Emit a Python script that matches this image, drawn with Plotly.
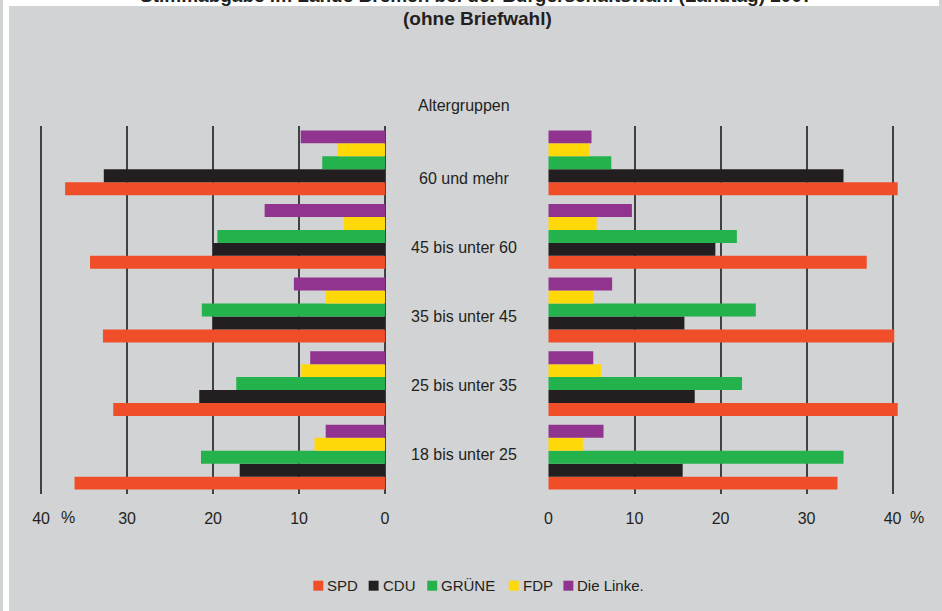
import plotly.graph_objects as go

# ---------------- data ----------------
categories = ["60 und mehr", "45 bis unter 60", "35 bis unter 45", "25 bis unter 35", "18 bis unter 25"]
parties = ["SPD", "CDU", "GRÜNE", "FDP", "Die Linke."]

spd_left = [37.2, 34.3, 32.8, 31.6, 36.1]
cdu_left = [32.7, 20.0, 20.0, 21.6, 16.9]
gruene_left = [7.3, 19.5, 21.3, 17.3, 21.4]
fdp_left = [5.5, 4.8, 6.9, 9.8, 8.2]
linke_left = [9.8, 14.0, 10.6, 8.7, 6.9]

spd_right = [40.6, 37.0, 40.2, 40.6, 33.6]
cdu_right = [34.3, 19.4, 15.8, 17.0, 15.6]
gruene_right = [7.3, 21.9, 24.1, 22.5, 34.3]
fdp_right = [4.7, 5.6, 5.2, 6.1, 4.0]
linke_right = [5.0, 9.7, 7.4, 5.2, 6.4]

tick_values = [0, 10, 20, 30, 40]
tick_labels = ["0", "10", "20", "30", "40"]

title_line1 = "Stimmabgabe im Lande Bremen bei der Bürgerschaftswahl (Landtag) 2007"
title_line2 = "(ohne Briefwahl)"
group_title = "Altergruppen"

# ---------------- styling ----------------
colors = ["#F04E28", "#231F20", "#23B24B", "#FFD80A", "#913490"]
BG = "#D1D3D4"
TXT = "#231F20"
GRID = "#414042"
FONT = "Liberation Sans, Arial, sans-serif"

W, H = 942, 611
def px(x):
    return x / W
def py(y):
    return 1 - y / H

S = 8.656  # pixels per percent
left_series = [spd_left, cdu_left, gruene_left, fdp_left, linke_left]
right_series = [spd_right, cdu_right, gruene_right, fdp_right, linke_right]

fig = go.Figure()
for name, color, lv, rv in zip(parties, colors, left_series, right_series):
    fig.add_trace(go.Bar(y=categories, x=lv, orientation="h", name=name,
                         marker=dict(color=color, line_width=0),
                         xaxis="x", yaxis="y", showlegend=False, hoverinfo="x+y+name"))
    fig.add_trace(go.Bar(y=categories, x=rv, orientation="h", name=name,
                         marker=dict(color=color, line_width=0),
                         xaxis="x2", yaxis="y2", showlegend=False, hoverinfo="x+y+name"))

L0, L_left, L_right = 384.5, 30, 386
R0, R_left, R_right = 549, 548, 910
y_top, y_bot = 126, 494

xcommon = dict(tickvals=tick_values, ticktext=tick_labels, showgrid=True,
               gridcolor=GRID, gridwidth=1.5, zeroline=False, showline=False,
               ticks="", tickfont=dict(size=16, color=TXT, family=FONT),
               ticklabelstandoff=13, fixedrange=True)
ycommon = dict(type="category", categoryorder="array", categoryarray=categories[::-1],
               range=[-0.5, 4.5], showticklabels=False, showgrid=False,
               zeroline=False, showline=False, ticks="",
               domain=[py(y_bot), py(y_top)], fixedrange=True)

fig.update_layout(
    width=W, height=H,
    margin=dict(l=0, r=0, t=0, b=0),
    paper_bgcolor=BG, plot_bgcolor=BG,
    barmode="group", bargap=0.12, bargroupgap=0,
    font=dict(family=FONT, color=TXT, size=16),
    showlegend=False,
    xaxis=dict(domain=[px(L_left), px(L_right)],
               range=[(L0 - L_left) / S, -(L_right - L0) / S], anchor="y", **xcommon),
    xaxis2=dict(domain=[px(R_left), px(R_right)],
                range=[-(R0 - R_left) / S, (R_right - R0) / S], anchor="y2", **xcommon),
    yaxis=dict(anchor="x", **ycommon),
    yaxis2=dict(anchor="x2", **ycommon),
)

shapes = [
    dict(type="rect", xref="paper", yref="paper", x0=0, x1=px(6), y0=0, y1=1,
         fillcolor="white", line_width=0, layer="below"),
    dict(type="rect", xref="paper", yref="paper", x0=0, x1=1, y0=py(6), y1=1,
         fillcolor="white", line_width=0, layer="below"),
]

annotations = []
# titles
annotations.append(dict(text="<b>" + title_line1 + "</b>", x=px(477), y=py(-4), xref="paper", yref="paper",
                        showarrow=False, xanchor="center", yanchor="middle",
                        font=dict(size=19, color=TXT, family=FONT)))
annotations.append(dict(text="<b>" + title_line2 + "</b>", x=px(478), y=py(19), xref="paper", yref="paper",
                        showarrow=False, xanchor="center", yanchor="middle",
                        font=dict(size=19, color=TXT, family=FONT)))
annotations.append(dict(text=group_title, x=px(464), y=py(106), xref="paper", yref="paper",
                        showarrow=False, xanchor="center", yanchor="middle",
                        font=dict(size=16, color=TXT, family=FONT)))
# age-group labels in the middle
for i, cat in enumerate(categories):
    annotations.append(dict(text=cat, x=px(464), y=py(178 + i * 69.2), xref="paper", yref="paper",
                            showarrow=False, xanchor="center", yanchor="middle",
                            font=dict(size=16, color=TXT, family=FONT)))
# percent signs
for xp in (65, 920):
    annotations.append(dict(text="%", x=px(xp), y=py(517), xref="paper", yref="paper",
                            showarrow=False, xanchor="center", yanchor="middle",
                            font=dict(size=16, color=TXT, family=FONT)))

# legend (square + label)
legend_sq_x = [312.3, 368, 427, 509, 564]
for name, color, sx in zip(parties, colors, legend_sq_x):
    shapes.append(dict(type="rect", xref="paper", yref="paper",
                       x0=px(sx), x1=px(sx + 10), y0=py(590.7), y1=py(580.7),
                       fillcolor=color, line_width=0, layer="above"))
    annotations.append(dict(text=name, x=px(sx + 12), y=py(585.7), xref="paper", yref="paper",
                            showarrow=False, xanchor="left", yanchor="middle",
                            font=dict(size=15, color=TXT, family=FONT)))

fig.update_layout(shapes=shapes, annotations=annotations)
fig.write_html("out.html",
               config={"displayModeBar": False},
               post_script="document.body.style.margin='0';document.body.style.overflow='hidden';"
                           "document.documentElement.style.overflow='hidden';"
                           "document.body.style.background='" + BG + "';"
                           "document.documentElement.style.background='" + BG + "';")
